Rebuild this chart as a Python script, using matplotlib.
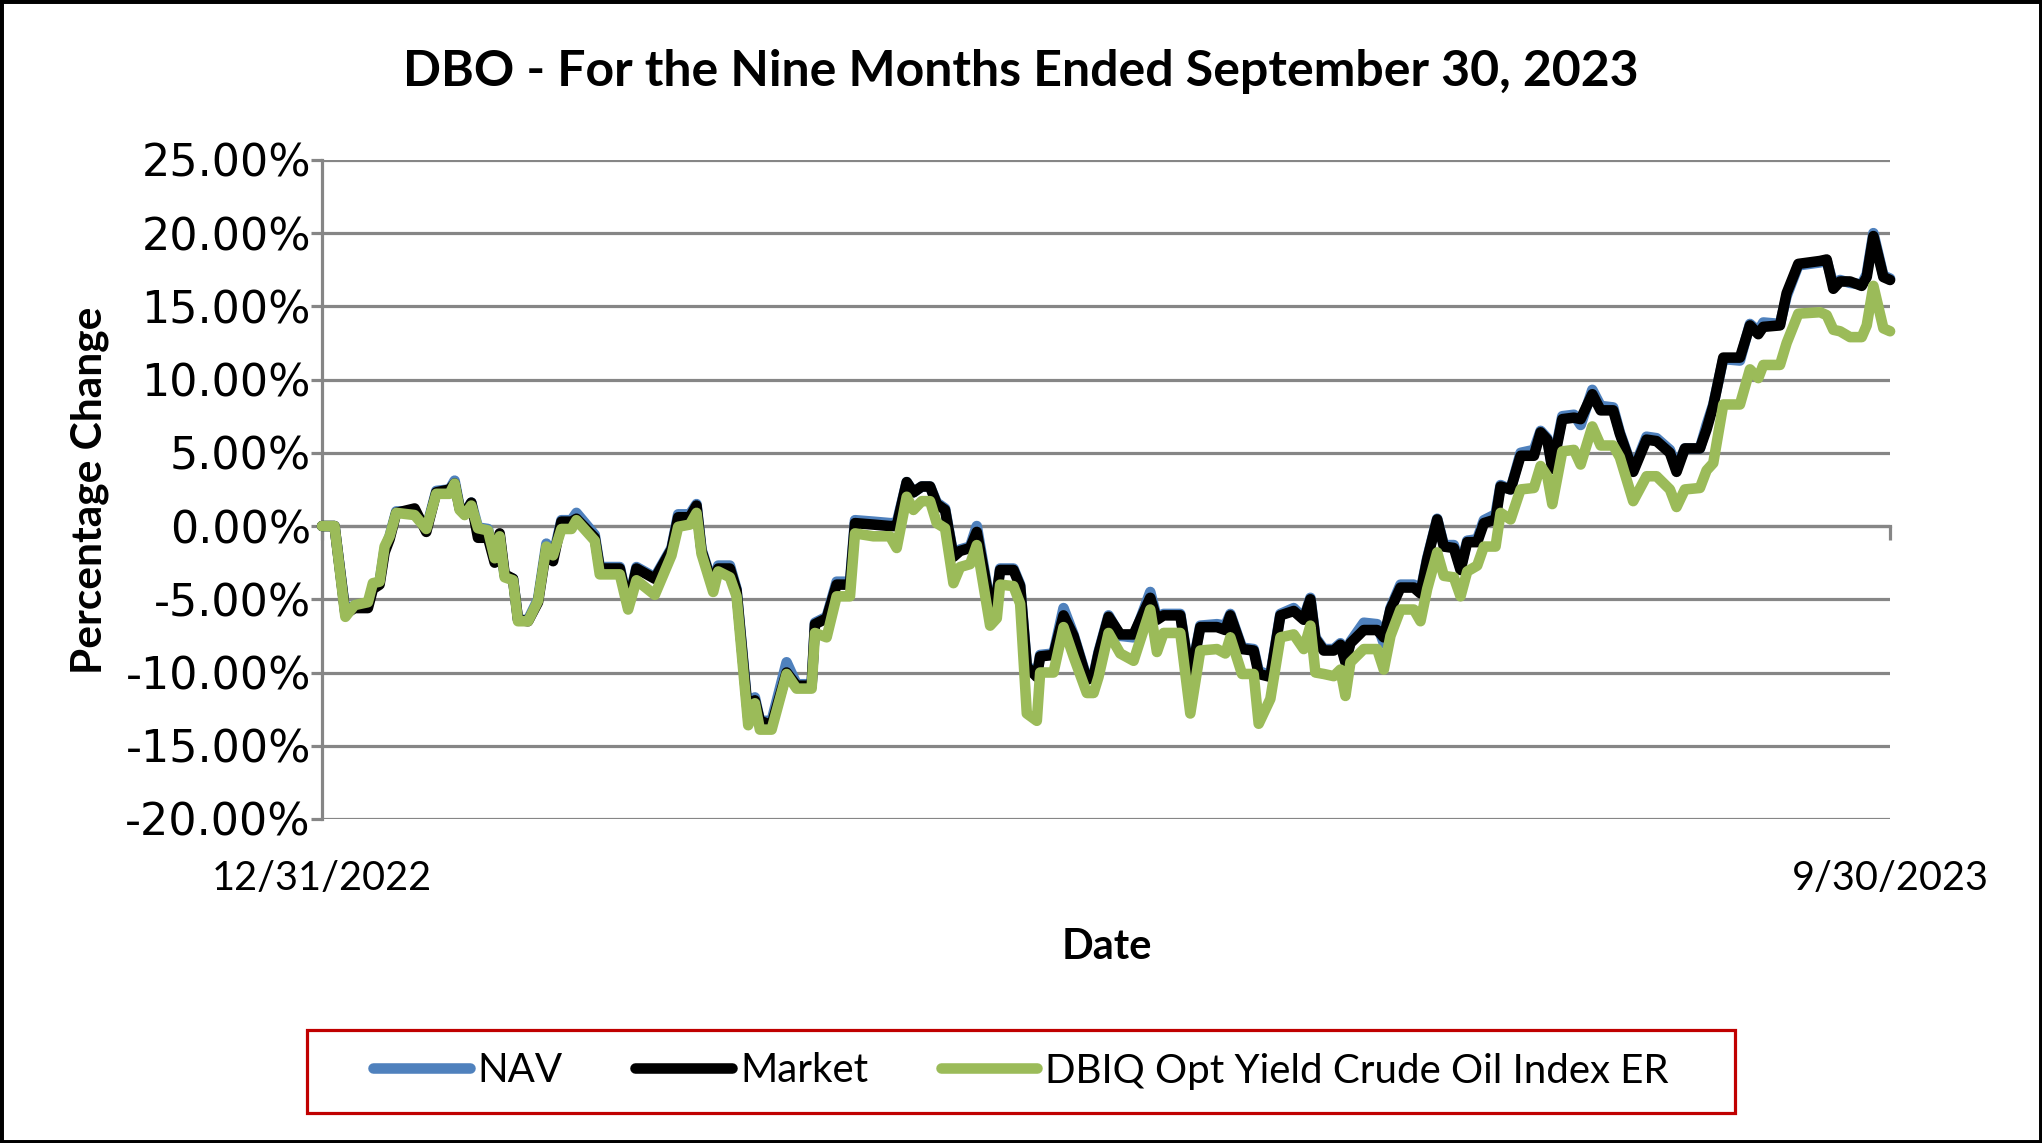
import matplotlib
matplotlib.use("Agg")
import matplotlib.pyplot as plt
from matplotlib.patches import Rectangle
from matplotlib.lines import Line2D
from matplotlib.ticker import FuncFormatter

# trading-day position (0 = 12/31/2022, 188 = 9/30/2023) and % change
days = [
    0, 1.5, 2.8, 3.9, 5.5, 6.1, 6.9, 7.5, 8.1, 8.9, 11.1, 12.5, 13.7, 15.3, 15.9, 16.5,
    17.1, 17.9, 18.7, 19.9, 20.7, 21.3, 21.9, 22.9, 23.5, 24.7, 25.9, 26.9, 27.7, 28.7,
    29.9, 30.5, 32.7, 33.3, 35.7, 36.7, 37.7, 39.9, 41.9, 42.7, 44.1, 44.9, 45.5, 46.9,
    47.5, 48.9, 49.7, 51.1, 51.9, 52.5, 53.9, 55.7, 56.9, 58.7, 59.1, 60.5, 61.7, 63.3,
    63.9, 66.1, 68.1, 68.9, 70.1, 70.9, 71.9, 72.9, 73.7, 74.7, 75.7, 76.5, 77.7, 78.5,
    80.1, 80.9, 81.3, 82.9, 83.7, 84.5, 85.7, 86.1, 87.7, 88.9, 90.1, 91.7, 92.5, 93.1,
    94.3, 95.7, 97.3, 99.3, 100.1, 100.9, 102.9, 104.1, 105.3, 107.3, 108.3, 108.9, 110.3,
    111.7, 112.3, 113.7, 114.9, 116.5, 117.7, 118.5, 119.1, 120.1, 121.3, 122.1, 122.7,
    123.3, 124.9, 126.5, 127.3, 128.1, 129.3, 130.9, 131.7, 132.5, 133.7, 134.5, 135.7,
    136.5, 137.3, 138.5, 139.3, 140.7, 141.3, 142.5, 143.7, 145.3, 146.1, 146.9, 147.5,
    148.7, 150.1, 150.9, 152.3, 153.3, 154.8, 155.6, 157.2, 158.8, 160.0, 161.6, 162.4,
    163.4, 165.2, 166.0, 166.8, 168.0, 170.0, 171.2, 172.2, 172.8, 174.8, 175.6, 177.0,
    179.6, 180.4, 181.2, 182.0, 183.2, 184.6, 185.2, 186.0, 187.2, 188.0,
]

index_er = [
    0, 0, -6.2, -5.4, -5.2, -3.9, -3.8, -1.4, -0.7, 0.9, 0.75, -0.2, 2.2, 2.2, 2.9, 1.1,
    0.75, 1.4, -0.15, -0.3, -2.2, -0.7, -3.5, -3.7, -6.5, -6.5, -5.1, -1.4, -2.0, -0.2,
    -0.2, 0.4, -1.0, -3.3, -3.3, -5.7, -3.7, -4.7, -2.0, -0.05, 0.1, 0.9, -1.9, -4.5,
    -3.1, -3.5, -4.8, -13.6, -12.1, -13.9, -13.9, -10.1, -11.1, -11.1, -7.3, -7.6, -4.8, -4.8,
    -0.5, -0.7, -0.7, -1.5, 2.0, 1.1, 1.7, 1.7, 0.2, -0.15, -3.9, -2.8, -2.6, -1.3,
    -6.8, -6.3, -4.0, -4.1, -5.3, -12.8, -13.3, -10.0, -10.0, -6.9, -8.9, -11.4, -11.4, -10.3,
    -7.3, -8.7, -9.2, -5.7, -8.6, -7.3, -7.3, -12.8, -8.5, -8.4, -8.7, -7.6, -10.1,
    -10.1, -13.5, -11.8, -7.6, -7.4, -8.4, -6.8, -10.0, -10.1, -10.25, -9.8, -11.6,
    -9.3, -8.4, -8.4, -9.8, -7.5, -5.7, -5.7, -6.5, -4.3, -1.8, -3.4, -3.5,
    -4.8, -3.1, -2.7, -1.4, -1.4, 0.9, 0.45, 2.5, 2.6, 4.1, 3.4, 1.5,
    5.1, 5.2, 4.2, 6.8, 5.5, 5.5, 4.7, 1.7, 3.4, 3.4, 2.5, 1.3,
    2.5, 2.6, 3.8, 4.3, 8.3, 8.3, 10.7, 10.1, 11.0, 11.0, 12.5, 14.5,
    14.6, 14.4, 13.4, 13.3, 12.9, 12.9, 13.7, 16.4, 13.5, 13.3,
]

market = [
    0, 0, -6.0, -5.6, -5.6, -4.3, -4.0, -1.8, -0.9, 0.9, 1.2, -0.4, 2.3, 2.5, 2.9, 1.2,
    0.8, 1.6, -0.8, -0.8, -2.5, -0.5, -3.3, -3.6, -6.4, -6.5, -5.2, -1.5, -2.4, 0.3,
    0.3, 0.5, -0.8, -2.9, -2.9, -5.5, -2.9, -3.6, -1.6, 0.6, 0.6, 1.4, -1.7, -4.2,
    -2.9, -2.9, -4.4, -13.1, -11.9, -13.3, -13.6, -10.0, -10.9, -10.9, -6.7, -6.3, -4.0, -4.0,
    0.2, 0.1, 0.0, 0.0, 3.0, 2.3, 2.7, 2.7, 1.5, 1.1, -2.1, -1.7, -1.5, -0.4,
    -5.4, -4.7, -3.0, -3.0, -4.1, -9.6, -10.3, -8.9, -8.8, -6.1, -7.5, -10.5, -10.3, -8.7,
    -6.2, -7.4, -7.4, -4.9, -6.4, -6.1, -6.1, -10.5, -6.9, -6.9, -7.1, -6.1, -8.4,
    -8.5, -10.1, -10.3, -6.1, -5.8, -6.4, -5.0, -7.7, -8.5, -8.5, -8.1, -9.3,
    -8.0, -7.1, -7.1, -7.6, -5.7, -4.2, -4.2, -4.6, -2.3, 0.45, -1.4, -1.5,
    -3.0, -1.1, -1.1, 0.2, 0.45, 2.7, 2.5, 4.8, 4.8, 6.4, 5.9, 3.9,
    7.3, 7.4, 7.3, 9.0, 7.9, 7.9, 6.3, 3.7, 5.9, 5.8, 5.0, 3.7,
    5.3, 5.3, 6.6, 8.2, 11.5, 11.5, 13.7, 13.1, 13.6, 13.7, 15.9, 17.9,
    18.1, 18.2, 16.2, 16.7, 16.7, 16.4, 17.0, 19.8, 17.0, 16.8,
]

nav = [
    0, 0, -5.9, -5.4, -5.4, -4.1, -3.8, -1.6, -0.7, 1.0, 1.0, -0.2, 2.4, 2.5, 3.1, 1.3,
    0.9, 1.6, -0.1, -0.2, -2.3, -0.7, -3.4, -3.6, -6.4, -6.4, -5.0, -1.2, -2.1, 0.4,
    0.4, 0.9, -0.6, -2.8, -2.8, -5.4, -2.8, -3.5, -1.5, 0.8, 0.8, 1.5, -1.6, -4.1,
    -2.7, -2.7, -4.3, -12.9, -11.7, -13.3, -13.3, -9.3, -10.8, -10.8, -6.6, -6.2, -3.8, -3.8,
    0.4, 0.3, 0.2, 0.2, 3.0, 2.3, 2.7, 2.7, 1.6, 1.2, -2.0, -1.6, -1.4, 0.0,
    -5.3, -4.6, -2.9, -2.9, -4.0, -9.5, -10.2, -8.8, -8.7, -5.6, -7.4, -10.4, -10.2, -8.6,
    -6.1, -7.5, -7.6, -4.5, -6.3, -6.0, -6.0, -10.4, -6.8, -6.7, -6.8, -6.0, -8.3,
    -8.4, -9.9, -10.2, -6.0, -5.6, -6.3, -4.9, -7.6, -8.4, -8.4, -8.0, -9.2,
    -7.9, -6.6, -6.7, -8.0, -5.6, -4.0, -4.0, -4.5, -2.2, 0.5, -1.3, -1.3,
    -2.9, -1.0, -0.9, 0.4, 0.8, 2.8, 2.5, 5.0, 5.2, 6.5, 6.0, 4.0,
    7.5, 7.6, 6.9, 9.3, 8.2, 8.1, 6.4, 3.8, 6.1, 6.0, 5.2, 4.0,
    5.3, 5.3, 6.9, 8.3, 11.4, 11.3, 13.8, 13.3, 13.9, 13.8, 15.7, 17.8,
    18.0, 18.1, 16.5, 16.8, 16.6, 16.5, 17.2, 20.0, 17.1, 16.9,
]

x_labels = ["12/31/2022", "9/30/2023"]
y_ticks = [-20, -15, -10, -5, 0, 5, 10, 15, 20, 25]

plt.rcParams["font.family"] = ["Lato", "DejaVu Sans"]

fig = plt.figure(figsize=(20.42, 11.43), dpi=100)
ax = fig.add_axes([0.1577, 0.2835, 0.7679, 0.5766])

grid_c = "#868686"
series = [
    ("NAV", nav, "#4F81BD"),
    ("Market", market, "#000000"),
    ("DBIQ Opt Yield Crude Oil Index ER", index_er, "#9BBB59"),
]
for i, (name, vals, col) in enumerate(series):
    ax.plot(days, vals, color=col, lw=7.6, solid_joinstyle="round",
            solid_capstyle="round", clip_on=False, zorder=3 + i, label=name)

ax.set_xlim(days[0], days[-1])
ax.set_ylim(-20, 25)
ax.set_yticks(y_ticks)
ax.yaxis.set_major_formatter(FuncFormatter(lambda v, _: f"{v:.2f}%"))
ax.grid(axis="y", color=grid_c, lw=2.3)
ax.set_axisbelow(True)

for s in ("top", "right"):
    ax.spines[s].set_visible(False)
ax.spines["left"].set_color(grid_c)
ax.spines["left"].set_linewidth(2.3)
ax.spines["bottom"].set_position(("data", 0))
ax.spines["bottom"].set_color(grid_c)
ax.spines["bottom"].set_linewidth(2.3)

ax.set_xticks([days[0], days[-1]])
ax.set_xticklabels([])
ax.tick_params(axis="x", direction="out", length=10, width=2.3, color=grid_c)
ax.tick_params(axis="y", direction="out", length=8, width=2.3, color=grid_c,
               labelsize=32, pad=0, labelfontfamily="DejaVu Sans")

for d, lab in zip([days[0], days[-1]], x_labels):
    ax.text(d, -0.091, lab, transform=ax.get_xaxis_transform(),
            ha="center", va="center", fontsize=28.5)

fig.text(0.5, 1 - 72 / 1143, "DBO - For the Nine Months Ended September 30, 2023",
         ha="center", va="center", fontsize=36, fontweight="bold")
fig.text(90 / 2042, 1 - 490 / 1143, "Percentage Change", rotation=90,
         ha="center", va="center", fontsize=30.5, fontweight="bold")
fig.text(1107 / 2042, 1 - 947 / 1143, "Date", ha="center", va="center",
         fontsize=30, fontweight="bold")

handles = [Line2D([], [], color=c, lw=7.6, solid_capstyle="round") for _, _, c in series]
fig.legend(handles, [n for n, _, _ in series], loc="center",
           bbox_to_anchor=(0.5, 1 - 1071 / 1143), ncol=3, frameon=False,
           fontsize=29, handlelength=2.4, handletextpad=0.2, columnspacing=1.8)

fig.add_artist(Rectangle((307 / 2042, 1 - 1113 / 1143), (1735 - 307) / 2042,
                         (1113 - 1030) / 1143, transform=fig.transFigure,
                         fill=False, edgecolor="#C00000", lw=2.3))
fig.add_artist(Rectangle((0, 0), 1, 1, transform=fig.transFigure, fill=False,
                         edgecolor="black", lw=5))

fig.savefig("out.png", dpi=100)
plt.close(fig)
